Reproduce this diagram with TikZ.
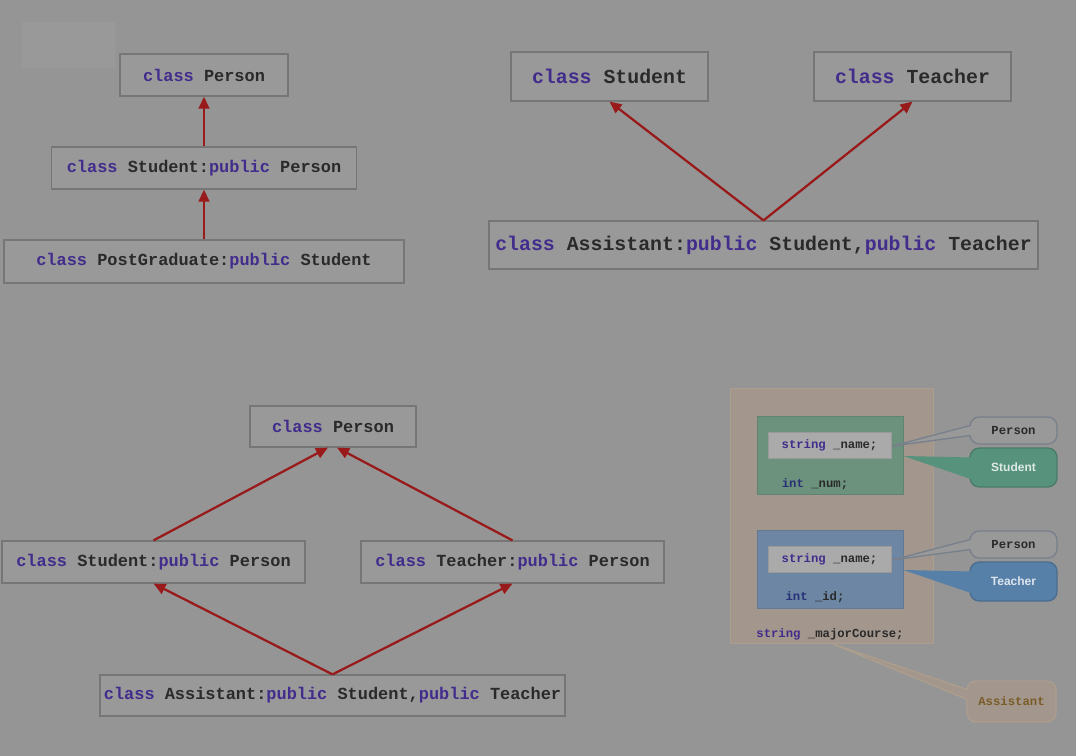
\documentclass[tikz,border=0pt]{standalone}
\usepackage{fontspec}
\newfontfamily\mono{Liberation Mono}
\newfontfamily\sansf{Liberation Sans}
\usetikzlibrary{arrows.meta,calc}
\definecolor{bg}{RGB}{149,149,149}
\definecolor{boxfill}{RGB}{153,153,153}
\definecolor{boxline}{RGB}{118,118,118}
\definecolor{kw}{RGB}{66,44,140}
\definecolor{txt}{RGB}{42,42,42}
\definecolor{arr}{RGB}{152,26,26}
\definecolor{tan}{RGB}{163,150,140}
\definecolor{tanline}{RGB}{172,158,140}
\definecolor{grn}{RGB}{108,146,126}
\definecolor{blu}{RGB}{108,134,163}
\definecolor{inner}{RGB}{170,170,170}
\definecolor{calgrn}{RGB}{86,146,124}
\definecolor{calblu}{RGB}{86,128,168}
\definecolor{calline}{RGB}{120,128,140}
\definecolor{asst}{RGB}{122,92,40}
\definecolor{intc}{RGB}{40,48,120}
\newcommand{\kwd}[1]{{\color{kw}#1}}
\tikzset{
  cls/.style={draw=boxline, fill=boxfill, line width=0.9pt, inner sep=0pt, text=txt, font=\mono\bfseries\fontsize{12.7}{14}\selectfont},
  clsbig/.style={cls, font=\mono\bfseries\fontsize{14.9}{17}\selectfont},
  inh/.style={draw=arr, line width=1.7pt, -{Triangle[length=9pt,width=8pt]}},
  small/.style={font=\mono\bfseries\fontsize{9.2}{11}\selectfont, text=txt, inner sep=0pt},
  callout/.style={rounded corners=7pt, line width=1pt, inner sep=0pt, minimum width=65.25pt},
}
\begin{document}
\begin{tikzpicture}[x=0.75pt,y=-0.75pt]
\fill[bg] (0,0) rectangle (1076,756);
\useasboundingbox (0,0) rectangle (1076,756);
\fill[boxfill] (22,22) rectangle (115,68);

% top-left chain
\node[cls, minimum width=126pt, minimum height=31.5pt] (p1) at (204,75) {\kwd{class} Person};
\node[cls, minimum width=228.75pt, minimum height=31.5pt] (s1) at (204,168) {\kwd{class} Student:\kwd{public} Person};
\node[cls, minimum width=300pt, minimum height=32.25pt] (g1) at (204,261.5) {\kwd{class} PostGraduate:\kwd{public} Student};
\draw[inh] (s1.north) -- (p1.south);
\draw[inh] (g1.north) -- (s1.south);

% top-right multiple inheritance
\node[clsbig, minimum width=147.75pt, minimum height=36.75pt] (s2) at (609.5,76.5) {\kwd{class} Student};
\node[clsbig, minimum width=147.75pt, minimum height=36.75pt] (t2) at (912.5,76.5) {\kwd{class} Teacher};
\node[clsbig, minimum width=411.75pt, minimum height=36pt] (a2) at (763.5,245) {\kwd{class} Assistant:\kwd{public} Student,\kwd{public} Teacher};
\draw[inh] (a2.north) -- (s2.south);
\draw[inh] (a2.north) -- (t2.south);

% bottom-left diamond
\node[cls, minimum width=124.5pt, minimum height=30.75pt] (p3) at (333,426.5) {\kwd{class} Person};
\node[cls, minimum width=227.25pt, minimum height=31.5pt] (s3) at (153.5,562) {\kwd{class} Student:\kwd{public} Person};
\node[cls, minimum width=227.25pt, minimum height=31.5pt] (t3) at (512.5,562) {\kwd{class} Teacher:\kwd{public} Person};
\node[cls, minimum width=348.75pt, minimum height=30.75pt] (a3) at (332.5,695.5) {\kwd{class} Assistant:\kwd{public} Student,\kwd{public} Teacher};
\coordinate (p3l) at ($(p3.south)+(-5,0)$);
\coordinate (p3r) at ($(p3.south)+(4,0)$);
\draw[inh] (s3.north) -- (p3l);
\draw[inh] (t3.north) -- (p3r);
\draw[inh] (a3.north) -- (s3.south);
\draw[inh] (a3.north) -- (t3.south);

% bottom-right memory layout
\node[draw=tanline, fill=tan, line width=0.6pt, minimum width=152.25pt, minimum height=191.25pt, inner sep=0pt] (outer) at (831.5,515.5) {};
\node[draw=grn!90!black, fill=grn, line width=0.6pt, minimum width=109.5pt, minimum height=58.5pt, inner sep=0pt] (gbox) at (830,455) {};
\node[fill=inner, draw=inner!90!black, line width=0.4pt, minimum width=92.25pt, minimum height=19.5pt, small] (in1) at (829.5,445) {{\color{kw}string} \_name;};
\node[small, text=intc] (num) at (815,484) {int {\color{txt}\_num;}};
\node[draw=blu!90!black, fill=blu, line width=0.6pt, minimum width=109.5pt, minimum height=58.5pt, inner sep=0pt] (bbox) at (830,569) {};
\node[fill=inner, draw=inner!90!black, line width=0.4pt, minimum width=92.25pt, minimum height=19.5pt, small] (in2) at (829.5,559) {{\color{kw}string} \_name;};
\node[small, text=intc] (id) at (815,597) {int {\color{txt}\_id;}};
\node[small] (major) at (830,634) {{\color{kw}string} \_majorCourse;};

% callouts
\coordinate (w1) at ($(in1.east)+(1,1)$);
\coordinate (w2) at ($(gbox.east)+(0,1)$);
\coordinate (w3) at ($(in2.east)+(1,1)$);
\coordinate (w4) at ($(bbox.east)+(0,1)$);
\coordinate (w5) at (833,644);

\node[callout, draw=calline, fill=boxfill, minimum height=20.25pt, small] (cp1) at (1013.5,430.5) {Person};
\fill[boxfill] (w1) -- ($(cp1.west)+(2,-5)$) -- ($(cp1.west)+(2,5)$) -- cycle;
\draw[calline, line width=1pt] ($(cp1.west)+(1,-5)$) -- (w1) -- ($(cp1.west)+(1,5)$);

\node[callout, draw=calgrn!85!black, fill=calgrn, minimum height=29.25pt, text=white!80!calgrn, font=\sansf\bfseries\fontsize{9}{11}\selectfont] (cs) at (1013.5,467.5) {Student};
\fill[calgrn] (w2) -- ($(cs.west)+(3,-10)$) -- ($(cs.west)+(3,12)$) -- cycle;

\node[callout, draw=calline, fill=boxfill, minimum height=20.25pt, small] (cp2) at (1013.5,544.5) {Person};
\fill[boxfill] (w3) -- ($(cp2.west)+(2,-5)$) -- ($(cp2.west)+(2,5)$) -- cycle;
\draw[calline, line width=1pt] ($(cp2.west)+(1,-5)$) -- (w3) -- ($(cp2.west)+(1,5)$);

\node[callout, draw=calblu!85!black, fill=calblu, minimum height=29.25pt, text=white!80!calblu, font=\sansf\bfseries\fontsize{9}{11}\selectfont] (ct) at (1013.5,581.5) {Teacher};
\fill[calblu] (w4) -- ($(ct.west)+(3,-10)$) -- ($(ct.west)+(3,12)$) -- cycle;

\node[callout, draw=tanline, fill=tan, minimum width=66.75pt, minimum height=30.75pt, small, text=asst] (ca) at (1011.5,701.5) {Assistant};
\fill[tan] (w5) -- ($(ca.west)+(2,-12)$) -- ($(ca.west)+(2,-2)$) -- cycle;
\draw[tanline, line width=1pt] ($(ca.west)+(1,-12)$) -- (w5) -- ($(ca.west)+(1,-2)$);
\end{tikzpicture}
\end{document}
